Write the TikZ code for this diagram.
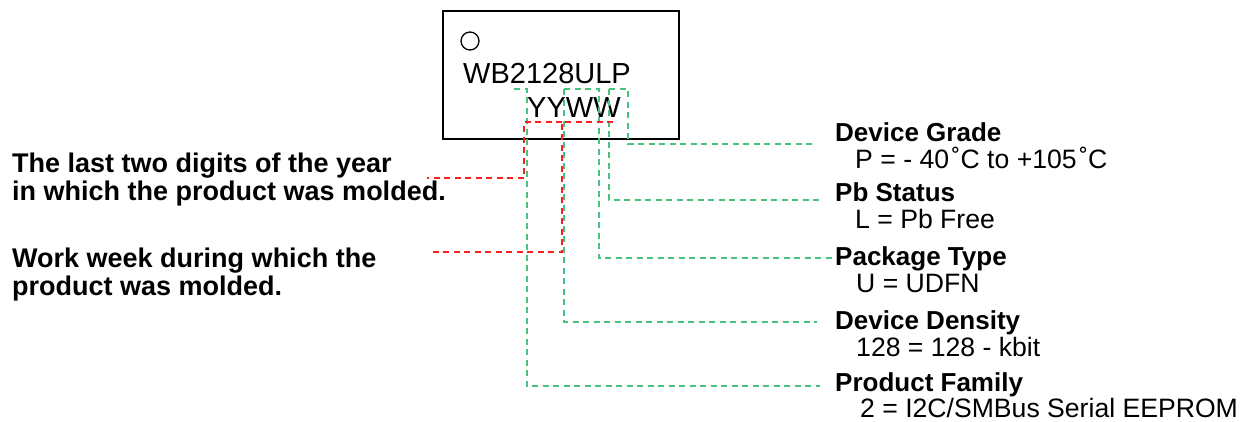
\documentclass[tikz,border=0pt]{standalone}
\usepackage{fontspec}
\setmainfont{Liberation Sans}
\definecolor{grn}{RGB}{70,195,125}
\definecolor{rd}{RGB}{250,30,30}
\begin{document}
\begin{tikzpicture}[x=1pt,y=-1pt,
 lead/.style={line width=1.3pt, dash pattern=on 6pt off 4.5pt},
 gl/.style={lead, draw=grn},
 rl/.style={lead, draw=rd},
 hd/.style={anchor=base west, inner sep=0pt, font=\fontsize{26}{28}\selectfont\bfseries},
 lt/.style={anchor=base west, inner sep=0pt, font=\fontsize{27}{29}\selectfont\bfseries},
 tx/.style={anchor=base west, inner sep=0pt, font=\fontsize{26.6}{28}\selectfont},
 mk/.style={anchor=base west, inner sep=0pt, font=\fontsize{29}{31}\selectfont}]
\useasboundingbox (0,0) rectangle (1247,421);
% chip
\node[draw, line width=2pt, minimum width=236pt, minimum height=128pt, anchor=north west, inner sep=0pt] (chip) at (442,10) {};
\node[circle, draw, line width=1.3pt, minimum size=18pt, inner sep=0pt] (dot) at (470,41) {};
\node[mk] (part) at (463,83) {WB2128ULP};
\node[mk] (date) at (527,117) {YYWW};
% right texts
\node[hd] (dg) at (835,141) {Device Grade};
\node[tx] (dgv) at (855,168) {P = - 40\hspace{0.1em}˚C to +105\hspace{0.1em}˚C};
\node[hd] (ps) at (835,201) {Pb Status};
\node[tx] (psv) at (855,228) {L = Pb Free};
\node[hd] (pt) at (835,265) {Package Type};
\node[tx] (ptv) at (856,292) {U = UDFN};
\node[hd] (dd) at (835,329) {Device Density};
\node[tx] (ddv) at (856,356) {128 = 128 - kbit};
\node[hd] (pf) at (835,391) {Product Family};
\node[tx] (pfv) at (860,417) {2 = I2C/SMBus Serial EEPROM};
% left texts
\node[lt] (yr1) at (12,172) {The last two digits of the year};
\node[lt] (yr2) at (12,200) {in which the product was molded.};
\node[lt] (wk1) at (12,267) {Work week during which the};
\node[lt] (wk2) at (12,295) {product was molded.};
% lead end points
\coordinate (pfs) at (514,89);
\coordinate (pfe) at (820,386);
\coordinate (dds) at (564,89);
\coordinate (dde) at (817,322);
\coordinate (pts) at (599,89);
\coordinate (pte) at (833,258);
\coordinate (pss) at (609,89);
\coordinate (pse) at (820,200);
\coordinate (dgs) at (609,89);
\coordinate (dge) at (813,144);
\coordinate (yrs) at (562,122);
\coordinate (yre) at (427,178);
\coordinate (wks) at (613,122);
\coordinate (wke) at (428,252);
% green leads
\draw[gl] (pfs) -- (527,89) -- (527,386) -- (pfe);
\draw[gl] (dds) -- (dds |- dde) -- (dde);
\draw[gl] (dds) -- (pts) -- (pts |- pte) -- (pte);
\draw[gl] (pss) -- (pss |- pse) -- (pse);
\draw[gl] (dgs) -- (628,89) -- (628,144) -- (dge);
% red leads
\draw[rl] (yrs) -- (524,122) -- (524,178) -- (yre);
\draw[rl] (wks) -- (562,122) -- (562,252) -- (wke);
\end{tikzpicture}
\end{document}
